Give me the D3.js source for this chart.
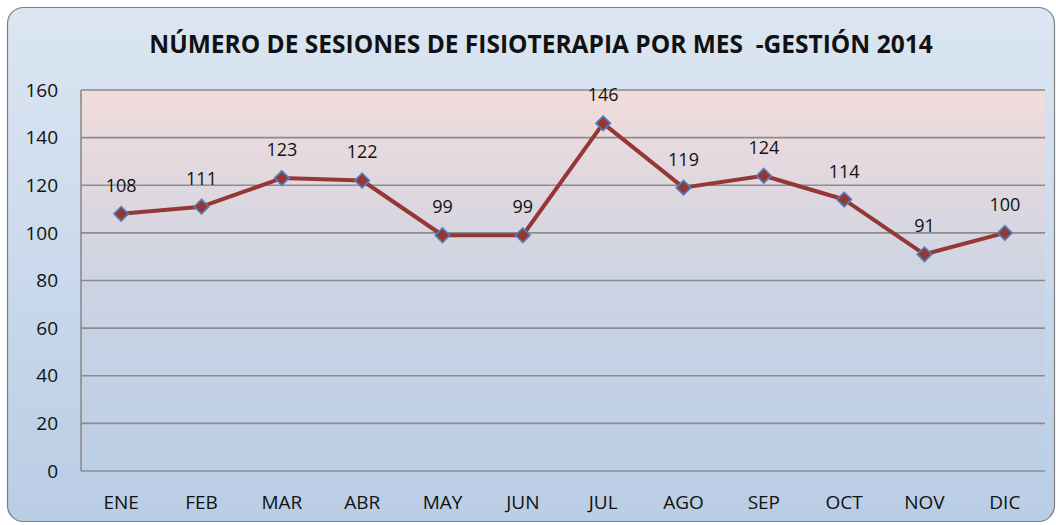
<!DOCTYPE html>
<meta charset="utf-8">
<style>
    body {margin:0; background:#fff; font-family: 'Open Sans', 'Liberation Sans', sans-serif;}
</style>
<svg width="1056" height="525"></svg>
<script src="https://d3js.org/d3.v7.min.js"></script>
<script>

var months = ["ENE","FEB","MAR","ABR","MAY","JUN","JUL","AGO","SEP","OCT","NOV","DIC"];
var sessions = [108,111,123,122,99,99,146,119,124,114,91,100];
var yTicks = [0,20,40,60,80,100,120,140,160];
var title = "NÚMERO DE SESIONES DE FISIOTERAPIA POR MES  -GESTIÓN 2014";

var svg = d3.select("svg"),
    width = +svg.attr("width"),
    height = +svg.attr("height");

var margin = {left: 81, right: 11, top: 90, bottom: 54};

var defs = svg.append("defs");

var outerGrad = defs.append("linearGradient")
    .attr("id", "outerGrad").attr("x1", 0).attr("y1", 0).attr("x2", 0).attr("y2", 1);
outerGrad.append("stop").attr("offset", "0%").attr("stop-color", "#dce6f2");
outerGrad.append("stop").attr("offset", "100%").attr("stop-color", "#b9cde5");

var plotGrad = defs.append("linearGradient")
    .attr("id", "plotGrad").attr("x1", 0).attr("y1", 0).attr("x2", 0).attr("y2", 1);
plotGrad.append("stop").attr("offset", "0%").attr("stop-color", "#f2dcdb");
plotGrad.append("stop").attr("offset", "55%").attr("stop-color", "#c9d3e4");
plotGrad.append("stop").attr("offset", "100%").attr("stop-color", "#bccfe6");

// chart area with rounded border
svg.append("rect")
    .attr("x", 7.5).attr("y", 7.5)
    .attr("width", 1047).attr("height", 514)
    .attr("rx", 16)
    .style("fill", "url(#outerGrad)")
    .style("stroke", "#7f7f7f")
    .style("stroke-width", 1.2);

var x = d3.scaleBand()
    .domain(months)
    .range([margin.left, width - margin.right]);

var y = d3.scaleLinear()
    .domain([0, 160])
    .range([height - margin.bottom, margin.top]);

svg.append("rect")
    .attr("x", margin.left).attr("y", margin.top)
    .attr("width", width - margin.right - margin.left)
    .attr("height", y(0) - y(160))
    .style("fill", "url(#plotGrad)");

// gridlines
svg.append("g")
    .selectAll("line")
    .data(yTicks)
    .enter().append("line")
    .attr("x1", margin.left).attr("x2", width - margin.right)
    .attr("y1", function(d) { return y(d); })
    .attr("y2", function(d) { return y(d); })
    .style("stroke", "#8c8c8c")
    .style("stroke-width", 1.6);

// left axis line
svg.append("line")
    .attr("x1", margin.left).attr("x2", margin.left)
    .attr("y1", y(160)).attr("y2", y(0))
    .style("stroke", "#8c8c8c")
    .style("stroke-width", 1.6);

svg.append("g")
    .selectAll("text")
    .data(yTicks)
    .enter().append("text")
    .attr("x", 58)
    .attr("y", function(d) { return y(d); })
    .attr("dy", "0.35em")
    .attr("text-anchor", "end")
    .style("font-size", "19px")
    .style("fill", "#111")
    .text(function(d) { return d; });

svg.append("g")
    .selectAll("text")
    .data(months)
    .enter().append("text")
    .attr("x", function(d) { return x(d) + x.bandwidth() / 2; })
    .attr("y", 509)
    .attr("text-anchor", "middle")
    .style("font-size", "19px")
    .style("fill", "#111")
    .text(function(d) { return d; });

var line = d3.line()
    .x(function(d, i) { return x(months[i]) + x.bandwidth() / 2; })
    .y(function(d) { return y(d); });

svg.append("path")
    .datum(sessions)
    .attr("d", line)
    .style("fill", "none")
    .style("stroke", "#953735")
    .style("stroke-width", 4)
    .style("stroke-linejoin", "round");

svg.append("g")
    .selectAll("path")
    .data(sessions)
    .enter().append("path")
    .attr("d", d3.symbol().type(d3.symbolDiamond2).size(135))
    .attr("transform", function(d, i) {
        return "translate(" + (x(months[i]) + x.bandwidth() / 2) + "," + y(d) + ")";
    })
    .style("fill", "#953735")
    .style("stroke", "#4f81bd")
    .style("stroke-width", 1.6);

svg.append("g")
    .selectAll("text")
    .data(sessions)
    .enter().append("text")
    .attr("x", function(d, i) { return x(months[i]) + x.bandwidth() / 2; })
    .attr("y", function(d) { return y(d) - 22; })
    .attr("text-anchor", "middle")
    .style("font-size", "18px")
    .style("fill", "#111")
    .text(function(d) { return d; });

svg.append("text")
    .attr("x", 541)
    .attr("y", 53)
    .attr("text-anchor", "middle")
    .style("font-size", "24.5px")
    .style("font-weight", "bold")
    .style("fill", "#111")
    .attr("xml:space", "preserve")
    .text(title);

</script>
